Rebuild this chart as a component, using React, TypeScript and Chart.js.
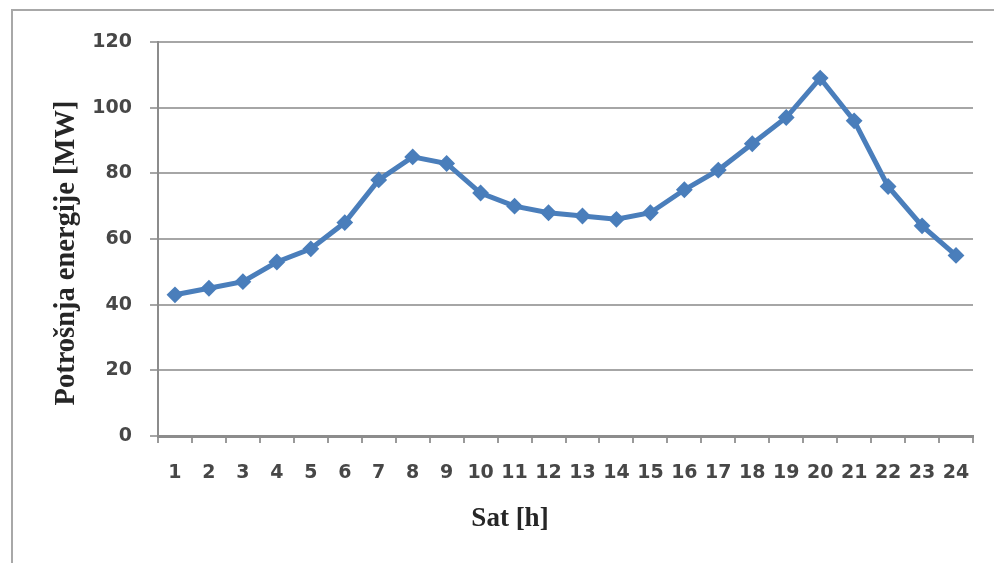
import React, { useEffect, useRef } from "react";
import { Chart, registerables } from "chart.js";

Chart.register(...registerables);

const hours: string[] = [
  "1", "2", "3", "4", "5", "6", "7", "8", "9", "10", "11", "12",
  "13", "14", "15", "16", "17", "18", "19", "20", "21", "22", "23", "24",
];
const consumption: number[] = [
  43, 45, 47, 53, 57, 65, 78, 85, 83, 74, 70, 68,
  67, 66, 68, 75, 81, 89, 97, 109, 96, 76, 64, 55,
];
const yMin = 0;
const yMax = 120;
const yStep = 20;
const xTitle = "Sat [h]";
const yTitle = "Potrošnja energije [MW]";

const framePlugin = {
  id: "frame",
  beforeDraw(chart: any) {
    const { ctx, width, height } = chart;
    ctx.save();
    ctx.fillStyle = "#ffffff";
    ctx.fillRect(0, 0, width, height);
    ctx.strokeStyle = "#a8a8a8";
    ctx.lineWidth = 2;
    ctx.beginPath();
    ctx.moveTo(12, height);
    ctx.lineTo(12, 10);
    ctx.lineTo(width, 10);
    ctx.stroke();
    ctx.restore();
  },
  afterDraw(chart: any) {
    const { ctx } = chart;
    ctx.save();
    ctx.fillStyle = "#262626";
    ctx.textAlign = "center";
    ctx.textBaseline = "middle";
    ctx.font = "bold 27px 'Liberation Serif'";
    ctx.fillText(xTitle, 510, 519);
    ctx.translate(67, 253);
    ctx.rotate(-Math.PI / 2);
    ctx.font = "bold 28.5px 'Liberation Serif'";
    ctx.fillText(yTitle, 0, 0);
    ctx.restore();
  },
};

export default function App() {
  const ref = useRef<HTMLCanvasElement | null>(null);
  useEffect(() => {
    document.body.style.margin = "0";
    const canvas = ref.current;
    if (!canvas) return;
    const chart = new Chart(canvas, {
      type: "line",
      data: {
        labels: hours,
        datasets: [
          {
            data: consumption,
            borderColor: "#4a7ebb",
            backgroundColor: "#4a7ebb",
            borderWidth: 5,
            pointStyle: "rectRot",
            pointRadius: 7,
            pointBorderWidth: 2,
            pointBorderColor: "#4a7ebb",
            pointBackgroundColor: "#4a7ebb",
            tension: 0,
          },
        ],
      },
      options: {
        responsive: false,
        animation: false,
        layout: { padding: { left: 0, right: 21, top: 42, bottom: 0 } },
        plugins: {
          legend: { display: false },
          tooltip: { enabled: false },
        },
        scales: {
          x: {
            offset: true,
            grid: {
              offset: true,
              drawOnChartArea: false,
              drawTicks: true,
              tickLength: 7,
              color: "#9a9a9a",
              lineWidth: 2,
            },
            border: { display: true, color: "#8c8c8c", width: 3 },
            ticks: {
              color: "#474747",
              padding: 19,
              maxRotation: 0,
              autoSkip: false,
              font: { family: "DejaVu Sans", size: 19, weight: "bold" },
            },
            afterFit(scale: any) {
              scale.height = 127;
            },
          },
          y: {
            min: yMin,
            max: yMax,
            ticks: {
              stepSize: yStep,
              color: "#474747",
              padding: 18,
              font: { family: "DejaVu Sans", size: 19, weight: "bold" },
            },
            grid: {
              color: "#a6a6a6",
              lineWidth: 2,
              tickLength: 8,
              drawTicks: true,
            },
            border: { display: true, color: "#8c8c8c", width: 2 },
            afterFit(scale: any) {
              scale.width = 158;
            },
          },
        },
      },
      plugins: [framePlugin],
    });
    return () => chart.destroy();
  }, []);
  return <canvas ref={ref} width={994} height={563} style={{ display: "block" }} />;
}
